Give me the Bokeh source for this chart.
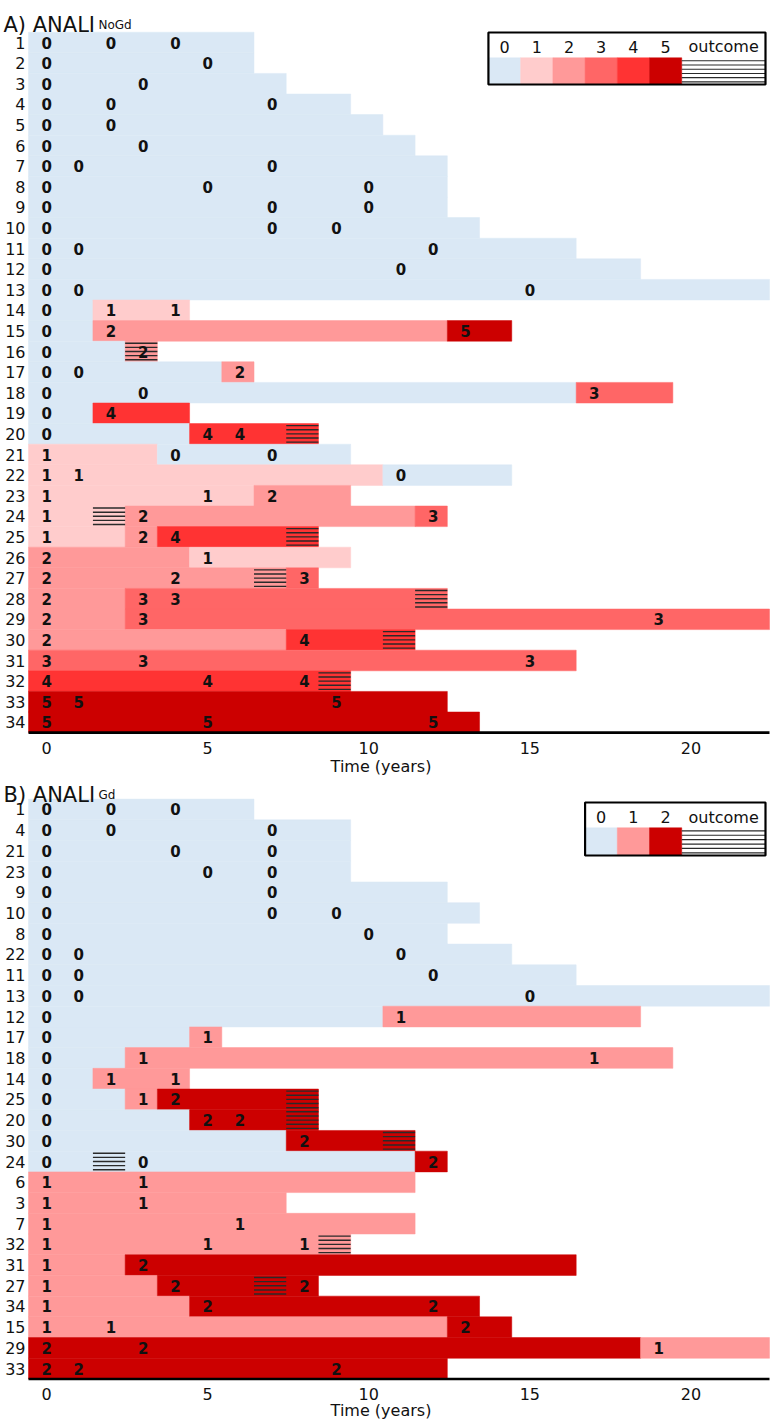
from bokeh.plotting import figure
from bokeh.layouts import column
from bokeh.models import Range1d
from bokeh.core.properties import value
from bokeh.embed import file_html
from bokeh.resources import INLINE

FONT = "DejaVu Sans"

# ---------------- Panel A: ANALI NoGd (grades 0-5) ----------------
a_ids = [str(i) for i in range(1, 35)]
a_times = [
    [0, 2, 4], [0, 5], [0, 3], [0, 2, 7], [0, 2], [0, 3], [0, 1, 7], [0, 5, 10],
    [0, 7, 10], [0, 7, 9], [0, 1, 12], [0, 11], [0, 1, 15], [0, 2, 4], [0, 2, 13],
    [0, 3], [0, 1, 6], [0, 3, 17], [0, 2], [0, 5, 6], [0, 4, 7], [0, 1, 11],
    [0, 5, 7], [0, 3, 12], [0, 3, 4], [0, 5], [0, 4, 8], [0, 3, 4], [0, 3, 19],
    [0, 8], [0, 3, 15], [0, 5, 8], [0, 1, 9], [0, 5, 12],
]
a_states = [
    [0, 0, 0], [0, 0], [0, 0], [0, 0, 0], [0, 0], [0, 0], [0, 0, 0], [0, 0, 0],
    [0, 0, 0], [0, 0, 0], [0, 0, 0], [0, 0], [0, 0, 0], [0, 1, 1], [0, 2, 5],
    [0, 2], [0, 0, 2], [0, 0, 3], [0, 4], [0, 4, 4], [1, 0, 0], [1, 1, 0],
    [1, 1, 2], [1, 2, 3], [1, 2, 4], [2, 1], [2, 2, 3], [2, 3, 3], [2, 3, 3],
    [2, 4], [3, 3, 3], [4, 4, 4], [5, 5, 5], [5, 5, 5],
]
a_end = [6, 6, 7, 9, 10, 11, 12, 12, 12, 13, 16, 18, 22, 4, 14, 3, 6, 19, 4, 8,
         9, 14, 9, 12, 8, 9, 8, 12, 22, 11, 16, 9, 12, 13]
a_outcome = [None] * 15 + [3, None, None, None, 8, None, None, None, 2, 8, None,
                           7, 12, None, 11, None, 9, None, None]

# ---------------- Panel B: ANALI Gd (grades 0-2) ----------------
b_ids = ["1", "4", "21", "23", "9", "10", "8", "22", "11", "13", "12", "17", "18",
         "14", "25", "20", "30", "24", "6", "3", "7", "32", "31", "27", "34", "15",
         "29", "33"]
b_times = [
    [0, 2, 4], [0, 2, 7], [0, 4, 7], [0, 5, 7], [0, 7], [0, 7, 9], [0, 10],
    [0, 1, 11], [0, 1, 12], [0, 1, 15], [0, 11], [0, 5], [0, 3, 17], [0, 2, 4],
    [0, 3, 4], [0, 5, 6], [0, 8], [0, 3, 12], [0, 3], [0, 3], [0, 6], [0, 5, 8],
    [0, 3], [0, 4, 8], [0, 5, 12], [0, 2, 13], [0, 3, 19], [0, 1, 9],
]
b_states = [
    [0, 0, 0], [0, 0, 0], [0, 0, 0], [0, 0, 0], [0, 0], [0, 0, 0], [0, 0],
    [0, 0, 0], [0, 0, 0], [0, 0, 0], [0, 1], [0, 1], [0, 1, 1], [0, 1, 1],
    [0, 1, 2], [0, 2, 2], [0, 2], [0, 0, 2], [1, 1], [1, 1], [1, 1], [1, 1, 1],
    [1, 2], [1, 2, 2], [1, 2, 2], [1, 1, 2], [2, 2, 1], [2, 2, 2],
]
b_end = [6, 9, 9, 9, 12, 13, 12, 14, 16, 22, 18, 5, 19, 4, 8, 8, 11, 12, 11, 7,
         11, 9, 16, 8, 13, 14, 22, 12]
b_outcome = [None] * 14 + [8, 8, 11, 2, None, None, None, 9, None, 7, None, None,
                           None, None]

x_ticks = [0, 5, 10, 15, 20]
palette_a = ["#DAE8F5", "#FFCCCC", "#FF9999", "#FF6666", "#FF3333", "#CC0000"]
palette_b = ["#DAE8F5", "#FF9999", "#CC0000"]

HATCH_OFFSETS = [-0.4, -0.2, 0.0, 0.2, 0.4]
HATCH_COLOR = "#2a2a2a"
TEXT_COLOR = "#111111"

# horizontal layout: time axis from -0.5 to 22.5 occupies pixels 28..769
X0_PX, YEAR_PX, WIDTH = 28.0, 741.0 / 23.0, 774


def tx(px):
    return -0.5 + (px - X0_PX) / YEAR_PX


def runs(ts, ss, end):
    """Collapse visits into runs of constant grade: (start, stop, grade)."""
    stops = ts[1:] + [end + 1]
    out = []
    for t0, t1, s in zip(ts, stops, ss):
        if out and out[-1][2] == s:
            out[-1] = (out[-1][0], t1 - 0.5, s)
        else:
            out.append((t0 - 0.5, t1 - 0.5, s))
    return out


def build_panel(ids, times, states, ends, outcomes, palette, letter, sub,
                height, top_px, row_px, pos):
    n = len(ids)

    def ry(px):
        return 0.5 + (px - top_px) / row_px

    p = figure(width=WIDTH, height=height,
               x_range=Range1d(tx(0), tx(WIDTH)),
               y_range=Range1d(ry(height), ry(0)),
               output_backend="svg", toolbar_location=None,
               min_border_left=0, min_border_right=0, min_border_top=0,
               min_border_bottom=0, x_axis_type=None, y_axis_type=None)
    p.outline_line_color = None
    p.grid.visible = False
    p.background_fill_color = "white"
    p.border_fill_color = "white"

    # state bars: each observed grade holds until the next visit
    left, right, rtop, rbot, fill = [], [], [], [], []
    for r, (ts, ss, e) in enumerate(zip(times, states, ends), start=1):
        for x0, x1, s in runs(ts, ss, e):
            left.append(x0)
            right.append(x1)
            rtop.append(r - 0.5)
            rbot.append(r + 0.5)
            fill.append(palette[s])
    p.quad(left=left, right=right, top=rtop, bottom=rbot, fill_color=fill,
           line_color=fill, line_width=0.5)

    # outcome cells: horizontal hatching over the current grade
    hx0, hx1, hy = [], [], []
    for r, o in enumerate(outcomes, start=1):
        if o is None:
            continue
        for off in HATCH_OFFSETS:
            hx0.append(o - 0.5)
            hx1.append(o + 0.5)
            hy.append(r + off)
    p.segment(x0=hx0, y0=hy, x1=hx1, y1=hy, line_color=HATCH_COLOR,
              line_width=1.4)

    # observed grade at each visit
    gx, gy, gt = [], [], []
    for r, (ts, ss) in enumerate(zip(times, states), start=1):
        for t, s in zip(ts, ss):
            gx.append(t)
            gy.append(r)
            gt.append(str(s))
    p.text(x=gx, y=gy, text=gt, text_font=value(FONT), text_font_style="bold",
           text_font_size="15px", text_align="center", text_baseline="middle",
           text_color=TEXT_COLOR, x_offset=2)

    # patient numbers down the left side
    p.text(x=[tx(25)] * n, y=list(range(1, n + 1)), text=ids, text_font=value(FONT),
           text_font_size="16px", text_align="right", text_baseline="middle",
           text_color=TEXT_COLOR)

    # time axis: base line, tick labels and title
    p.segment(x0=[-0.5], y0=[n + 0.5], x1=[22.5], y1=[n + 0.5], line_color="black",
              line_width=2.6)
    p.text(x=x_ticks, y=[ry(pos["tick"])] * len(x_ticks),
           text=[str(t) for t in x_ticks], text_font=value(FONT),
           text_font_size="16px", text_align="center", text_baseline="middle",
           text_color=TEXT_COLOR, x_offset=2)
    p.text(x=[tx(380.5)], y=[ry(pos["xlabel"])], text=["Time (years)"],
           text_font=value(FONT), text_font_size="16px", text_align="center",
           text_baseline="middle", text_color=TEXT_COLOR)

    # panel title with subscript
    p.text(x=[tx(3)], y=[ry(pos["title"])], text=[letter + ") ANALI"],
           text_font=value(FONT), text_font_size="21px", text_align="left",
           text_baseline="alphabetic", text_color=TEXT_COLOR)
    p.text(x=[tx(98)], y=[ry(pos["title"])], text=[sub],
           text_font=value(FONT), text_font_size="12px", text_align="left",
           text_baseline="alphabetic", text_color=TEXT_COLOR)

    # legend box: grade swatches followed by the outcome pattern
    k = len(palette)
    out_w = 2.6
    out_r = tx(765)
    out_l = out_r - out_w
    lefts = [out_l - k + j for j in range(k)]
    l_top, l_mid, l_bot = ry(pos["leg_top"]), ry(pos["leg_mid"]), ry(pos["leg_bot"])
    p.quad(left=[lefts[0]], right=[out_r], top=[l_top], bottom=[l_bot],
           fill_color="white", line_color=None)
    p.quad(left=lefts, right=[x + 1 for x in lefts], top=[l_mid] * k,
           bottom=[l_bot] * k, fill_color=palette, line_color=palette,
           line_width=0.5)
    ly = [l_mid + (j + 0.7) * (l_bot - l_mid) / 6.3 for j in range(6)]
    p.segment(x0=[out_l] * 6, y0=ly, x1=[out_r] * 6, y1=ly, line_color=HATCH_COLOR,
              line_width=1.2)
    p.text(x=[x + 0.5 for x in lefts] + [out_l + out_w / 2],
           y=[ry(pos["leg_text"])] * (k + 1),
           text=[str(j) for j in range(k)] + ["outcome"], text_font=value(FONT),
           text_font_size="16px", text_align="center", text_baseline="middle",
           text_color=TEXT_COLOR)
    p.quad(left=[lefts[0]], right=[out_r], top=[l_top], bottom=[l_bot],
           fill_color=None, line_color="black", line_width=2.2)
    return p


pa = build_panel(a_ids, a_times, a_states, a_end, a_outcome, palette_a, "A", "NoGd",
                 height=776, top_px=31.7, row_px=20.6,
                 pos=dict(title=24, tick=747, xlabel=766, leg_top=32, leg_mid=57.3,
                          leg_bot=84, leg_text=46))
pb = build_panel(b_ids, b_times, b_states, b_end, b_outcome, palette_b, "B", "Gd",
                 height=647, top_px=22.6, row_px=20.71,
                 pos=dict(title=18, tick=617, xlabel=634, leg_top=26, leg_mid=51.3,
                          leg_bot=79, leg_text=40.5))

layout = column(pa, pb, spacing=0)
open("out.html", "w").write(file_html(layout, INLINE))
